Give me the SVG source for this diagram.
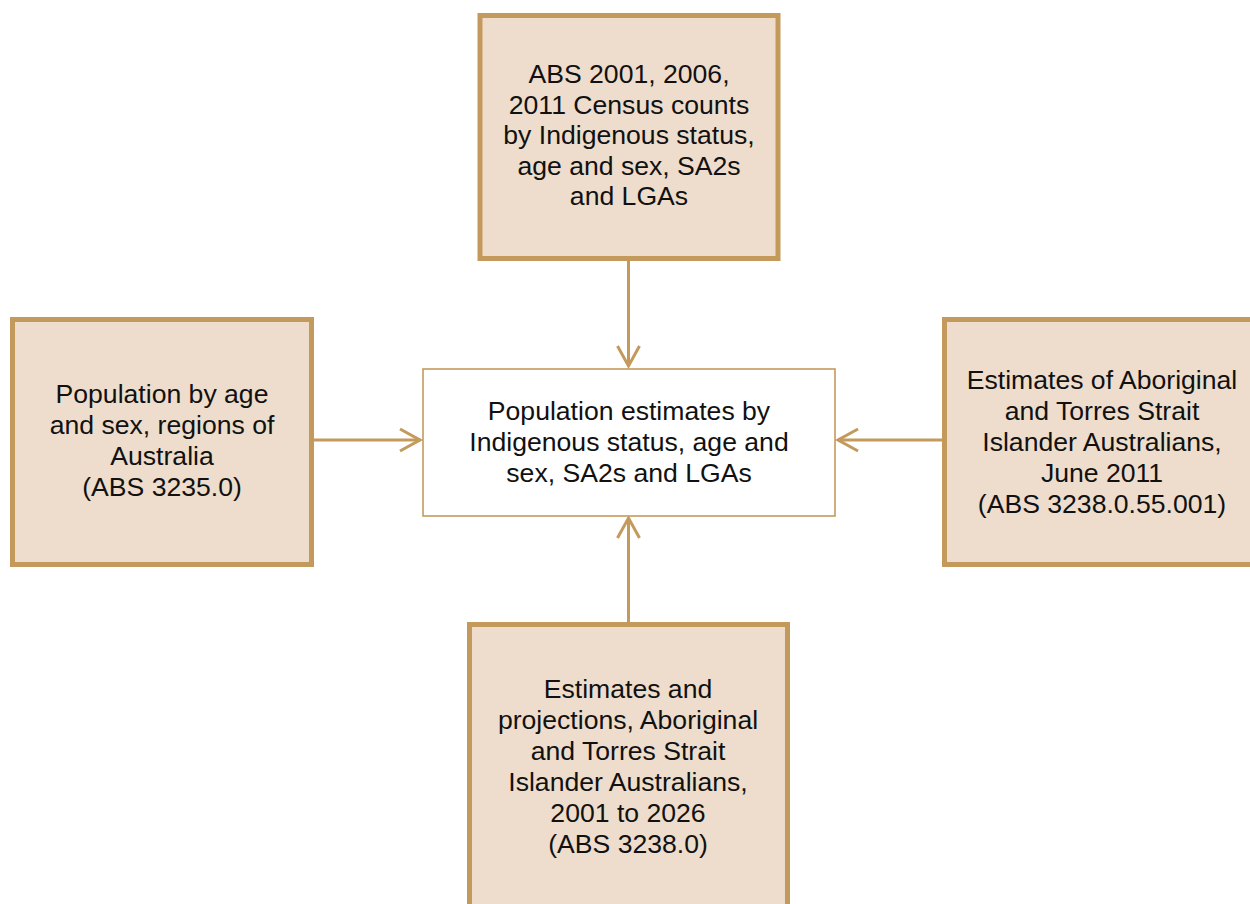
<svg xmlns="http://www.w3.org/2000/svg" width="1250" height="904" viewBox="0 0 1250 904">
<style>
.src{fill:#EEDDCC;stroke:#C49A5C;stroke-width:5}
.mid{fill:#FFFFFF;stroke:#C49A5C;stroke-width:1.6}
.t{font-family:"Liberation Sans",Arial,sans-serif;font-size:26.6px;fill:#111;text-anchor:middle}
.c{stroke:#C49A5C;stroke-width:3;fill:none}
</style>
<defs>
<marker id="ah" markerUnits="userSpaceOnUse" markerWidth="26" markerHeight="28" refX="22" refY="13" orient="auto">
<path d="M2,2 L22,13 L2,24" fill="none" stroke="#C49A5C" stroke-width="3"/>
</marker>
</defs>
<rect width="1250" height="904" fill="#FFFFFF"/>
<g id="connectors">
<line class="c" x1="628.5" y1="258" x2="628.5" y2="366" marker-end="url(#ah)"/>
<line class="c" x1="628.5" y1="622" x2="628.5" y2="518" marker-end="url(#ah)"/>
<line class="c" x1="314" y1="440" x2="420" y2="440" marker-end="url(#ah)"/>
<line class="c" x1="942" y1="440" x2="838" y2="440" marker-end="url(#ah)"/>
</g>
<g id="census">
<rect class="src" x="480" y="15.5" width="298" height="243"/>
<text class="t" x="629"><tspan x="629" y="83">ABS 2001, 2006,</tspan><tspan x="629" y="113.5">2011 Census counts</tspan><tspan x="629" y="144">by Indigenous status,</tspan><tspan x="629" y="174.5">age and sex, SA2s</tspan><tspan x="629" y="205">and LGAs</tspan></text>
</g>
<g id="regions">
<rect class="src" x="12.5" y="319.5" width="299" height="245"/>
<text class="t" x="162"><tspan x="162" y="403">Population by age</tspan><tspan x="162" y="434">and sex, regions of</tspan><tspan x="162" y="465">Australia</tspan><tspan x="162" y="496">(ABS 3235.0)</tspan></text>
</g>
<g id="center">
<rect class="mid" x="423" y="369" width="412" height="147"/>
<text class="t" x="629"><tspan x="629" y="420">Population estimates by</tspan><tspan x="629" y="451">Indigenous status, age and</tspan><tspan x="629" y="482">sex, SA2s and LGAs</tspan></text>
</g>
<g id="june2011">
<rect class="src" x="944.5" y="319.5" width="320" height="245"/>
<text class="t" x="1102"><tspan x="1102" y="389">Estimates of Aboriginal</tspan><tspan x="1102" y="420">and Torres Strait</tspan><tspan x="1102" y="451">Islander Australians,</tspan><tspan x="1102" y="482">June 2011</tspan><tspan x="1102" y="513">(ABS 3238.0.55.001)</tspan></text>
</g>
<g id="projections">
<rect class="src" x="469.5" y="624.5" width="318" height="300"/>
<text class="t" x="628"><tspan x="628" y="698">Estimates and</tspan><tspan x="628" y="729">projections, Aboriginal</tspan><tspan x="628" y="760">and Torres Strait</tspan><tspan x="628" y="791">Islander Australians,</tspan><tspan x="628" y="822">2001 to 2026</tspan><tspan x="628" y="853">(ABS 3238.0)</tspan></text>
</g>
</svg>
